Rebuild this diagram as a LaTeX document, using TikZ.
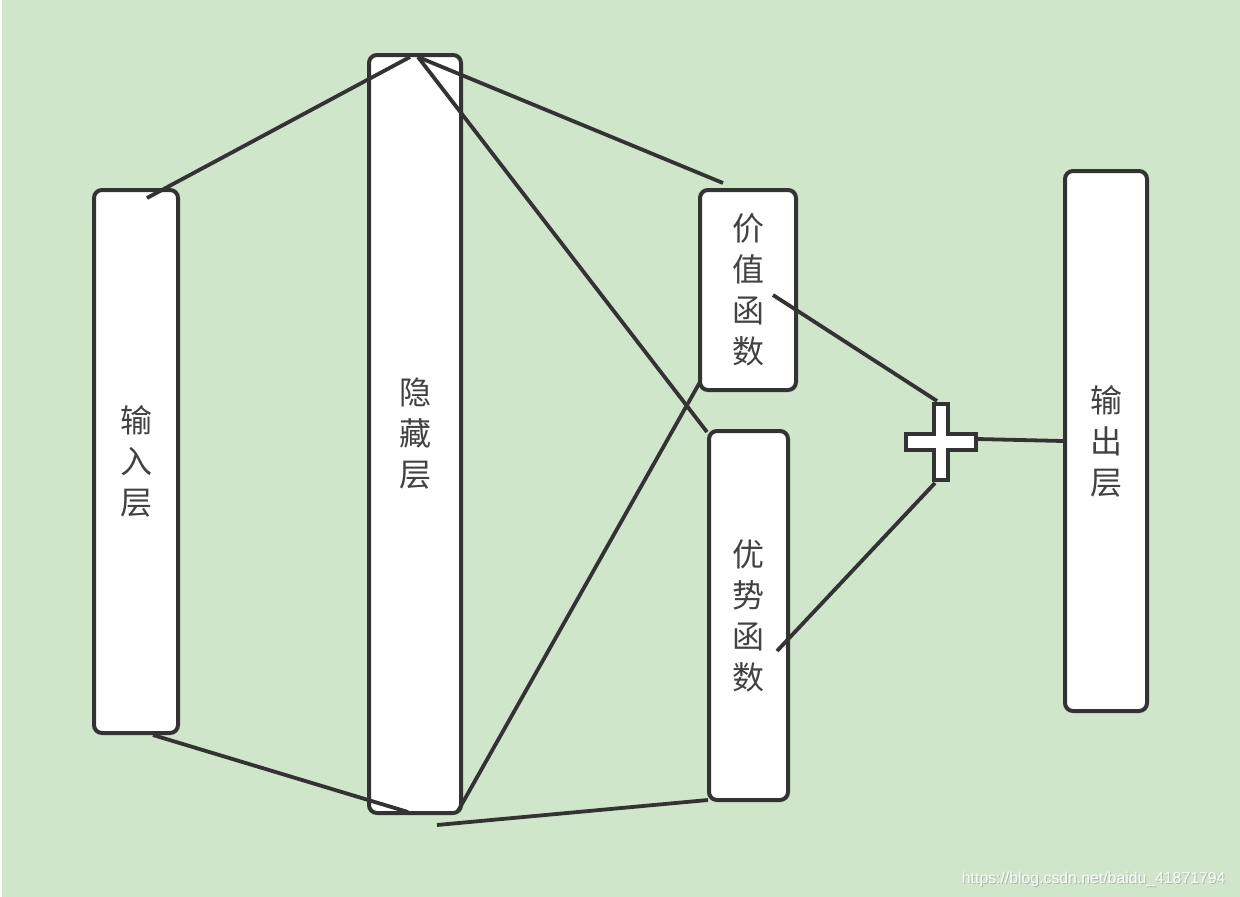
\documentclass[tikz,border=0pt]{standalone}
\usepackage{fontspec}
\setmainfont{Liberation Sans}
\newfontfamily\cjk{Noto Sans CJK SC}
\definecolor{bg}{RGB}{207,230,203}
\definecolor{ln}{RGB}{51,51,51}
\definecolor{tx}{RGB}{66,66,66}
\definecolor{wmshadow}{RGB}{170,185,168}
\begin{document}
\begin{tikzpicture}[x=1pt,y=-1pt,
  box/.style={draw=ln, line width=4pt, fill=white, rounded corners=8pt, align=center,
    inner sep=0pt, font=\cjk\fontsize{32}{41}\selectfont, text=tx},
  link/.style={draw=ln, line width=3.8pt},
  plusbox/.style={draw=ln, line width=4pt, fill=white, line join=miter}]
\fill[bg] (0,0) rectangle (1240,897);
\fill[white] (0,0) rectangle (2,897);
\useasboundingbox (0,0) rectangle (1240,897);

\node[box, minimum width=84pt, minimum height=543pt] (in) at (136,461.5) {输\\入\\层};
\node[box, minimum width=92pt, minimum height=758pt] (hid) at (415,434) {隐\\藏\\层};
\node[box, minimum width=96pt, minimum height=200pt] (val) at (748,290) {价\\值\\函\\数};
\node[box, minimum width=79pt, minimum height=369pt] (adv) at (748.5,615.5) {优\\势\\函\\数};
\node[box, minimum width=82pt, minimum height=540pt] (out) at (1106,441) {输\\出\\层};

\coordinate (inT) at (147,198);
\coordinate (hidTa) at (410,57);
\coordinate (hidTb) at (418,57);
\coordinate (valT) at (723,183);
\coordinate (advT) at (707,432);
\coordinate (hidBr) at (458,811);
\coordinate (valB) at (700,382);
\coordinate (inB) at (153,735);
\coordinate (hidB) at (408,812);
\coordinate (hidBb) at (437,825);
\coordinate (advB) at (708,800);
\coordinate (valR) at (773,295);
\coordinate (advR) at (777,651);
\coordinate (plus) at (941,442);
\coordinate (plusT) at (937,401);
\coordinate (plusB) at (935,483);
\coordinate (plusR) at (977,439);
\coordinate (outL) at (1063,441);

\draw[link] (inT) -- (hidTa);
\draw[link] (hidTb) -- (valT);
\draw[link] (hidTb) -- (advT);
\draw[link] (hidBr) -- (valB);
\draw[link] (inB) -- (hidB);
\draw[link] (hidBb) -- (advB);
\draw[link] (valR) -- (plusT);
\draw[link] (advR) -- (plusB);
\draw[link] (plusR) -- (outL);

\begin{scope}[shift={(plus)}]
\draw[plusbox] (-7,-38) -- (7,-38) -- (7,-8) -- (35,-8) -- (35,8) -- (7,8) -- (7,38)
  -- (-7,38) -- (-7,8) -- (-35,8) -- (-35,-8) -- (-7,-8) -- cycle;
\end{scope}

\node[anchor=base east, font=\fontsize{15.8}{16}\selectfont, text=wmshadow] (wms) at (1230,884) {https://blog.csdn.net/baidu\textunderscore 41871794};
\node[anchor=base east, font=\fontsize{15.8}{16}\selectfont, text=white!92!bg] (wm) at (1229,883) {https://blog.csdn.net/baidu\textunderscore 41871794};
\end{tikzpicture}
\end{document}
